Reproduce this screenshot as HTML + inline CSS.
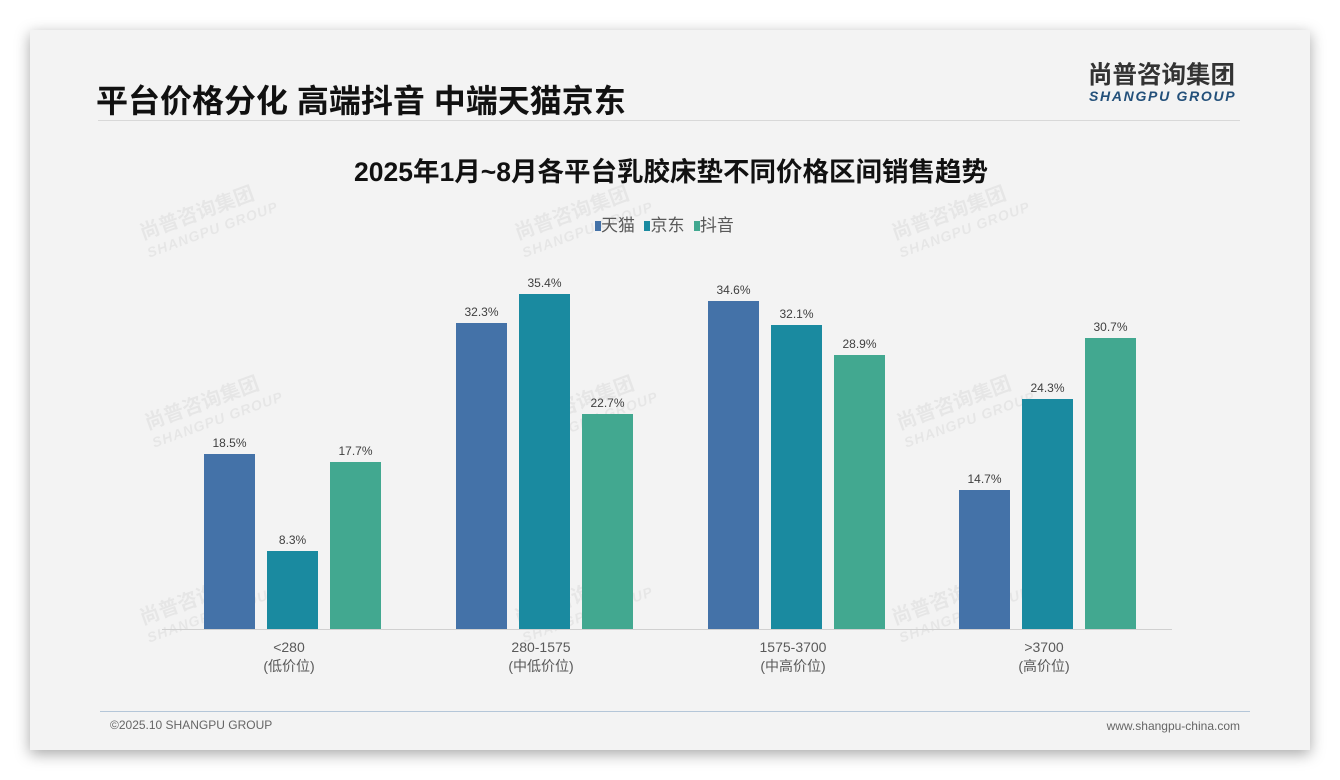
<!DOCTYPE html>
<html><head><meta charset="utf-8"><style>
body{margin:0;width:1340px;height:780px;background:#fff;position:relative;overflow:hidden;font-family:"Liberation Sans","Noto Sans CJK SC",sans-serif}
.card{position:absolute;left:30px;top:30px;width:1280px;height:720px;background:#f3f3f3;box-shadow:0 4px 14px rgba(0,0,0,.35)}
.a{position:absolute;white-space:nowrap}
.bar{position:absolute;width:51px}
.v{position:absolute;width:51px;text-align:center;font-size:12px;color:#404040}
.c{position:absolute;width:200px;text-align:center;font-size:14px;color:#595959;line-height:19px}
.wm{position:absolute;color:rgba(0,0,0,.05);font-weight:bold;transform:rotate(-20deg);font-size:20px;line-height:20px}
.wm span{display:block;font-size:14px;font-style:italic;letter-spacing:1px}
</style></head><body>
<div class="card"></div>
<div class="wm" style="left:140px;top:200px">尚普咨询集团<span>SHANGPU GROUP</span></div>
<div class="wm" style="left:515px;top:200px">尚普咨询集团<span>SHANGPU GROUP</span></div>
<div class="wm" style="left:892px;top:200px">尚普咨询集团<span>SHANGPU GROUP</span></div>
<div class="wm" style="left:145px;top:390px">尚普咨询集团<span>SHANGPU GROUP</span></div>
<div class="wm" style="left:520px;top:390px">尚普咨询集团<span>SHANGPU GROUP</span></div>
<div class="wm" style="left:897px;top:390px">尚普咨询集团<span>SHANGPU GROUP</span></div>
<div class="wm" style="left:140px;top:585px">尚普咨询集团<span>SHANGPU GROUP</span></div>
<div class="wm" style="left:515px;top:585px">尚普咨询集团<span>SHANGPU GROUP</span></div>
<div class="wm" style="left:892px;top:585px">尚普咨询集团<span>SHANGPU GROUP</span></div>
<div class="a" style="left:96px;top:76px;font-size:32px;font-weight:bold;color:#111">平台价格分化 高端抖音 中端天猫京东</div>
<div class="a" style="left:1088px;top:62px;font-size:24.5px;line-height:28px;font-weight:bold;color:#333">尚普咨询集团</div>
<div class="a" style="left:1089px;top:88px;font-size:14px;line-height:16px;font-weight:bold;font-style:italic;color:#23507a;letter-spacing:1.7px">SHANGPU GROUP</div>
<div class="a" style="left:98px;top:120px;width:1142px;height:1px;background:#d8d8d8"></div>
<div class="a" style="left:0;width:1342px;text-align:center;top:150px;font-size:26.5px;font-weight:bold;color:#111">2025年1月~8月各平台乳胶床垫不同价格区间销售趋势</div>
<div class="a" style="left:595px;top:211px;font-size:17px;color:#595959"><span style="display:inline-block;width:6px;height:10px;background:#4472a8"></span>天猫 &nbsp;<span style="display:inline-block;width:6px;height:10px;background:#1a8aa0"></span>京东 &nbsp;<span style="display:inline-block;width:6px;height:10px;background:#42a890"></span>抖音</div>
<div class="a" style="left:162px;top:629px;width:1010px;height:1px;background:#d0d0d0"></div>

<div class="bar" style="left:204px;top:454px;height:175px;background:#4472a8"></div><div class="v" style="left:204px;top:436px">18.5%</div>
<div class="bar" style="left:267px;top:551px;height:78px;background:#1a8aa0"></div><div class="v" style="left:267px;top:533px">8.3%</div>
<div class="bar" style="left:330px;top:462px;height:167px;background:#42a890"></div><div class="v" style="left:330px;top:444px">17.7%</div>

<div class="bar" style="left:456px;top:323px;height:306px;background:#4472a8"></div><div class="v" style="left:456px;top:305px">32.3%</div>
<div class="bar" style="left:519px;top:294px;height:335px;background:#1a8aa0"></div><div class="v" style="left:519px;top:276px">35.4%</div>
<div class="bar" style="left:582px;top:414px;height:215px;background:#42a890"></div><div class="v" style="left:582px;top:396px">22.7%</div>

<div class="bar" style="left:708px;top:301px;height:328px;background:#4472a8"></div><div class="v" style="left:708px;top:283px">34.6%</div>
<div class="bar" style="left:771px;top:325px;height:304px;background:#1a8aa0"></div><div class="v" style="left:771px;top:307px">32.1%</div>
<div class="bar" style="left:834px;top:355px;height:274px;background:#42a890"></div><div class="v" style="left:834px;top:337px">28.9%</div>

<div class="bar" style="left:959px;top:490px;height:139px;background:#4472a8"></div><div class="v" style="left:959px;top:472px">14.7%</div>
<div class="bar" style="left:1022px;top:399px;height:230px;background:#1a8aa0"></div><div class="v" style="left:1022px;top:381px">24.3%</div>
<div class="bar" style="left:1085px;top:338px;height:291px;background:#42a890"></div><div class="v" style="left:1085px;top:320px">30.7%</div>

<div class="c" style="left:189px;top:638px">&lt;280<br>(低价位)</div>
<div class="c" style="left:441px;top:638px">280-1575<br>(中低价位)</div>
<div class="c" style="left:693px;top:638px">1575-3700<br>(中高价位)</div>
<div class="c" style="left:944px;top:638px">&gt;3700<br>(高价位)</div>

<div class="a" style="left:100px;top:711px;width:1150px;height:1px;background:#b4c6d8"></div>
<div class="a" style="left:110px;top:718px;font-size:12px;color:#666">©2025.10 SHANGPU GROUP</div>
<div class="a" style="right:100px;top:719px;font-size:12px;color:#666">www.shangpu-china.com</div>
</body></html>
